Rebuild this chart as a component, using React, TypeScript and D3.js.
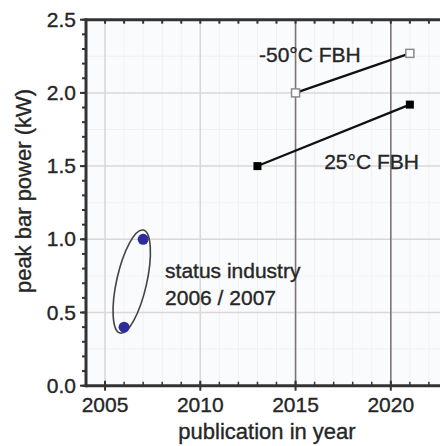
import React from "react";
import * as d3 from "d3";

// ---- data ----
const years25 = [2013, 2021];
const power25 = [1.5, 1.92];
const yearsM50 = [2015, 2021];
const powerM50 = [2.0, 2.27];
const industryYears = [2006, 2007];
const industryPower = [0.4, 1.0];
const xTickValues = [2005, 2010, 2015, 2020];
const yTickValues = [0, 0.5, 1.0, 1.5, 2.0, 2.5];
const darkGridYears = [2015, 2020];
const ellipseEnds = [
  [2005.79, 0.36],
  [2007.01, 1.063],
];
const annotations = [
  { text: "-50°C FBH", year: 2013.08, value: 2.21 },
  { text: "25°C FBH", year: 2016.5, value: 1.48 },
  { text: "status industry", year: 2008.15, value: 0.735 },
  { text: "2006 / 2007", year: 2008.15, value: 0.55 },
];
const xLabel = "publication in year";
const yLabel = "peak bar power (kW)";

const W = 440;
const H = 446;
const FONT = "'Liberation Sans', Arial, sans-serif";
const TXT = "#262626";

export default function App() {
  const x = d3.scaleLinear().domain([2004, 2023]).range([86, 86 + 19 * 19.05]);
  const y = d3.scaleLinear().domain([0, 2.5]).range([385.7, 19.7]);
  const x0 = x(2004);
  const yBot = y(0);
  const yTop = y(2.5);

  const minorYears = d3.range(2005, 2024, 1);
  const minorVals = d3.range(0, 2.51, 0.1);
  const minorGridVals = d3.range(0.25, 2.5, 0.5);

  const path = (xs: number[], ys: number[]) =>
    d3
      .line<[number, number]>()
      .x((d) => x(d[0]))
      .y((d) => y(d[1]))(xs.map((v, i) => [v, ys[i]] as [number, number]));

  const [e1, e2] = ellipseEnds.map(([a, b]) => [x(a), y(b)]);
  const ecx = (e1[0] + e2[0]) / 2;
  const ecy = (e1[1] + e2[1]) / 2;
  const elen = Math.hypot(e2[0] - e1[0], e2[1] - e1[1]);
  const eang = (Math.atan2(e2[1] - e1[1], e2[0] - e1[0]) * 180) / Math.PI;

  const sq = 8;
  const textProps = { fill: TXT, stroke: TXT, strokeWidth: 0.35 };

  return (
    <svg
      width={W}
      height={H}
      style={{ position: "absolute", left: 0, top: 0, background: "#fff" }}
      fontFamily={FONT}
    >
      <rect x={x0} y={yTop} width={W - x0} height={yBot - yTop} fill="#fafbfd" />
      {/* minor grid */}
      {minorYears.map((v) => (
        <line key={"mx" + v} x1={x(v)} x2={x(v)} y1={yTop} y2={yBot} stroke="#f1f1f1" strokeWidth={1} />
      ))}
      {minorGridVals.map((v) => (
        <line key={"my" + v} x1={x0} x2={W} y1={y(v)} y2={y(v)} stroke="#f1f1f1" strokeWidth={1} />
      ))}
      {/* major grid */}
      {xTickValues.map((v) => (
        <line key={"gx" + v} x1={x(v)} x2={x(v)} y1={yTop} y2={yBot} stroke="#dcd6d6" strokeWidth={1.5} />
      ))}
      {yTickValues.map((v) => (
        <line key={"gy" + v} x1={x0} x2={W} y1={y(v)} y2={y(v)} stroke="#dcd6d6" strokeWidth={1.5} />
      ))}
      {darkGridYears.map((v) => (
        <line key={"dg" + v} x1={x(v)} x2={x(v)} y1={yTop} y2={yBot} stroke="#7a7474" strokeWidth={1.5} />
      ))}

      {/* axes */}
      <line x1={x0} x2={W} y1={yTop} y2={yTop} stroke="#333" strokeWidth={3} />
      <line x1={x0} x2={W} y1={yBot} y2={yBot} stroke="#333" strokeWidth={3} />
      <line x1={x0} x2={x0} y1={yTop - 1.5} y2={yBot + 1.5} stroke="#333" strokeWidth={3} />
      {minorYears.map((v) => (
        <g key={"tx" + v}>
          <line x1={x(v)} x2={x(v)} y1={yTop} y2={yTop + 4} stroke="#333" strokeWidth={2} />
          <line x1={x(v)} x2={x(v)} y1={yBot} y2={yBot - 4} stroke="#333" strokeWidth={1.5} />
        </g>
      ))}
      {xTickValues.map((v) => (
        <line key={"tmx" + v} x1={x(v)} x2={x(v)} y1={yBot - 5} y2={yBot + 5} stroke="#333" strokeWidth={2} />
      ))}
      {minorVals.map((v) => (
        <line key={"ty" + v} x1={x0} x2={x0 - 4} y1={y(v)} y2={y(v)} stroke="#333" strokeWidth={2} />
      ))}
      {yTickValues.map((v) => (
        <line key={"tmy" + v} x1={x0} x2={x0 - 6} y1={y(v)} y2={y(v)} stroke="#333" strokeWidth={2} />
      ))}

      {/* tick labels */}
      {yTickValues.map((v) => (
        <text key={"yl" + v} x={76} y={y(v) + 7} textAnchor="end" fontSize={21} {...textProps}>
          {d3.format(".1f")(v)}
        </text>
      ))}
      {xTickValues.map((v) => (
        <text key={"xl" + v} x={x(v)} y={412} textAnchor="middle" fontSize={21} {...textProps}>
          {v}
        </text>
      ))}
      <text x={267} y={439} textAnchor="middle" fontSize={22} {...textProps}>
        {xLabel}
      </text>
      <text
        transform={`translate(31,${191}) rotate(-90)`}
        textAnchor="middle"
        fontSize={22}
        {...textProps}
      >
        {yLabel}
      </text>

      {/* ellipse */}
      <ellipse
        cx={ecx}
        cy={ecy}
        rx={elen / 2}
        ry={15}
        transform={`rotate(${eang},${ecx},${ecy})`}
        fill="none"
        stroke="#444"
        strokeWidth={1.6}
      />

      {/* series lines */}
      <path d={path(years25, power25) || ""} stroke="#111" strokeWidth={2.2} fill="none" />
      <path d={path(yearsM50, powerM50) || ""} stroke="#111" strokeWidth={2.2} fill="none" />

      {years25.map((v, i) => (
        <rect key={"s25" + i} x={x(v) - sq / 2} y={y(power25[i]) - sq / 2} width={sq} height={sq} fill="#000" />
      ))}
      {yearsM50.map((v, i) => (
        <rect
          key={"s50" + i}
          x={x(v) - sq / 2}
          y={y(powerM50[i]) - sq / 2}
          width={sq}
          height={sq}
          fill="#fff"
          stroke="#8a8a8a"
          strokeWidth={1.5}
        />
      ))}
      {industryYears.map((v, i) => (
        <circle key={"ind" + i} cx={x(v)} cy={y(industryPower[i])} r={5.5} fill="#2e2c9a" />
      ))}

      {/* annotations */}
      {annotations.map((a) => (
        <text key={a.text} x={x(a.year)} y={y(a.value)} fontSize={21} {...textProps}>
          {a.text}
        </text>
      ))}
    </svg>
  );
}
